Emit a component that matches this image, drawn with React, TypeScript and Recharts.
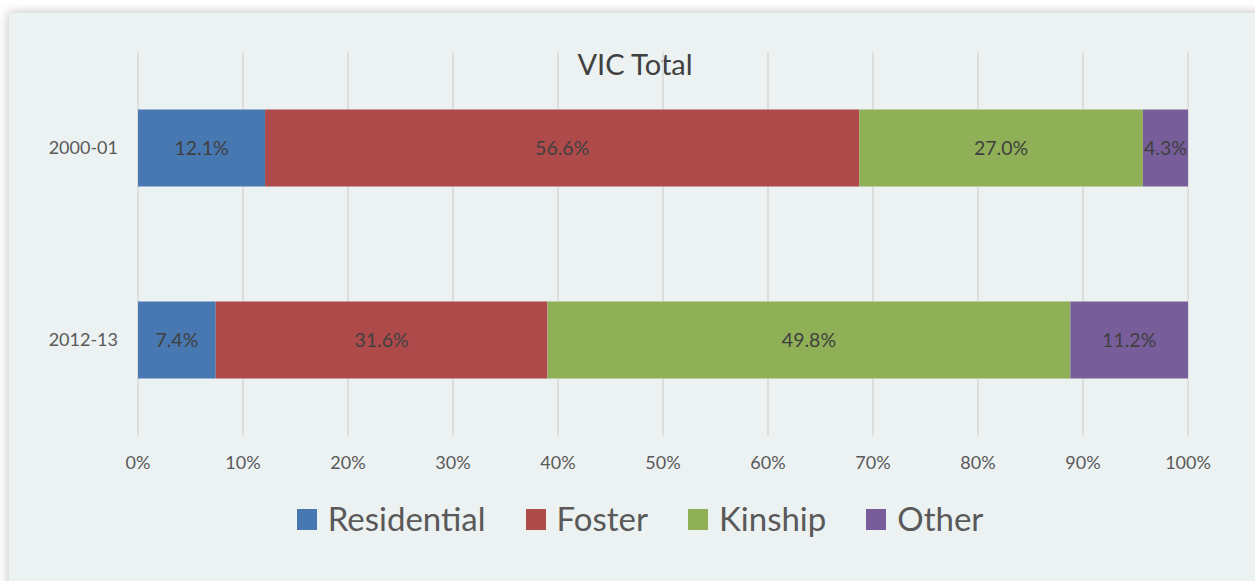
import React from "react";
import { BarChart, Bar, XAxis, YAxis, CartesianGrid, LabelList } from "recharts";

const categories = ["2000-01", "2012-13"];
const residential = [12.1, 7.4];
const foster = [56.6, 31.6];
const kinship = [27.0, 49.8];
const other = [4.3, 11.2];
const xTicks = [0, 10, 20, 30, 40, 50, 60, 70, 80, 90, 100];

const seriesDefs = [
  { key: "Residential", color: "#4878b2" },
  { key: "Foster", color: "#ae4b4a" },
  { key: "Kinship", color: "#8fb056" },
  { key: "Other", color: "#775e9b" },
];

const data = categories.map((c, i) => ({
  name: c,
  Residential: residential[i],
  Foster: foster[i],
  Kinship: kinship[i],
  Other: other[i],
}));

const FONT = "Lato, 'Open Sans', sans-serif";

export default function App() {
  return (
    <div style={{ position: "absolute", left: 0, top: 0, width: 1255, height: 581, background: "#ffffff", overflow: "hidden", fontFamily: FONT }}>
      <div
        style={{
          position: "absolute",
          left: 9,
          top: 13,
          width: 1260,
          height: 580,
          background: "#ecf1f1",
          boxShadow: "0 0 10px 1px rgba(0,0,0,0.22)",
        }}
      >
        <div
          style={{
            position: "absolute",
            left: 0,
            width: 1250,
            top: 33,
            fontSize: 29,
            color: "#404040",
            lineHeight: "36px",
          }}
        >
          <span style={{ position: "absolute", left: 626, transform: "translateX(-50%)", whiteSpace: "nowrap" }}>VIC Total</span>
        </div>
        <div style={{ position: "absolute", left: 0, top: 0 }}>
          <BarChart
            width={1246}
            height={470}
            data={data}
            layout="vertical"
            barCategoryGap="30%"
            margin={{ top: 39, right: 67, left: 0, bottom: 0 }}
          >
            <CartesianGrid horizontal={false} stroke="#d9d9d9" strokeWidth={1.5} />
            <XAxis
              type="number"
              domain={[0, 100]}
              ticks={xTicks}
              tickFormatter={(v: number) => `${v}%`}
              axisLine={false}
              tickLine={false}
              tickSize={0}
              tickMargin={20}
              height={47}
              tick={{ fill: "#595959", fontSize: 18, fontFamily: FONT }}
            />
            <YAxis
              type="category"
              dataKey="name"
              width={129}
              axisLine={false}
              tickLine={false}
              tickSize={0}
              tickMargin={20}
              tick={{ fill: "#595959", fontSize: 18, fontFamily: FONT }}
            />
            {seriesDefs.map((s) => (
              <Bar key={s.key} dataKey={s.key} stackId="a" fill={s.color} isAnimationActive={false}>
                <LabelList
                  dataKey={s.key}
                  position="center"
                  formatter={(v: number) => `${v.toFixed(1)}%`}
                  fill="#404040"
                  fontSize={19.5}
                  fontFamily={FONT}
                />
              </Bar>
            ))}
          </BarChart>
        </div>
        <div
          style={{
            position: "absolute",
            top: 485,
            left: 0,
            width: 1262,
            display: "flex",
            justifyContent: "center",
            alignItems: "center",
            gap: 40,
            fontSize: 33,
            color: "#595959",
          }}
        >
          {seriesDefs.map((s) => (
            <div key={s.key} style={{ display: "flex", alignItems: "center", gap: 11 }}>
              <div style={{ width: 20, height: 21, background: s.color, marginTop: 2 }} />
              <span>{s.key}</span>
            </div>
          ))}
        </div>
      </div>
    </div>
  );
}
